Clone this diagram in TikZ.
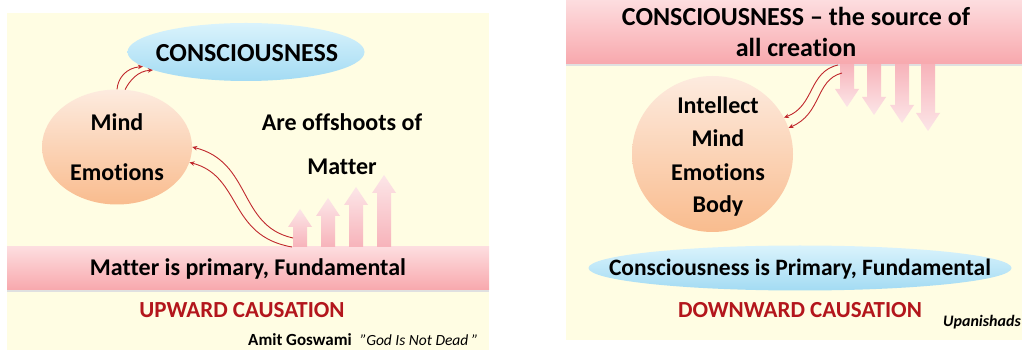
\documentclass[tikz,border=0pt]{standalone}
\usepackage{fontspec}
\setmainfont{Carlito}[Ligatures=NoCommon]
\usetikzlibrary{arrows.meta,shapes.geometric}

\definecolor{paperYellow}{HTML}{FFFDE3}
\definecolor{bandTop}{HTML}{FDDDDF}
\definecolor{bandBottom}{HTML}{F8A8AD}
\definecolor{skyTop}{HTML}{DAF3FC}
\definecolor{skyBottom}{HTML}{A3DBF3}
\definecolor{peachTop}{HTML}{FDEBDF}
\definecolor{peachBottom}{HTML}{F9BC8E}
\definecolor{shaftPink}{HTML}{F7B3BA}
\definecolor{shaftPale}{HTML}{FCE6E8}
\definecolor{curveRed}{HTML}{C0282D}
\definecolor{titleRed}{HTML}{B3161C}
\def\labelFont{\fontsize{24}{28}\selectfont\bfseries}
\def\headFont{\fontsize{26}{31}\selectfont\bfseries}

\begin{document}
\begin{tikzpicture}[x=1pt,y=-1pt,
    band/.style={rectangle, inner sep=0pt, top color=bandTop, bottom color=bandBottom},
    skyoval/.style={ellipse, inner sep=0pt, top color=skyTop, bottom color=skyBottom},
    peachball/.style={ellipse, inner sep=0pt, top color=peachTop, bottom color=peachBottom},
    word/.style={inner sep=0pt, font=\labelFont},
    causal/.style={draw=curveRed, line width=0.9pt, -{Stealth[length=5pt,width=4.5pt]}}]
    % Define parameters
    \def\shaftHalf{7}
    \def\headHalf{12}
    \def\headLen{18}

    \useasboundingbox (0,0) rectangle (1022,352);

    % left panel: upward causation
    \fill[paperYellow] (7,13) rectangle (489,350);
    \fill[black!12] (7,290) rectangle (489,292.5);
    \node[band, minimum width=482pt, minimum height=43pt] (matterBand) at (248,268.5) {};
    \node[word] (matterText) at (matterBand) {Matter is primary, Fundamental};

    \foreach \x/\tip in {300/209, 328/198, 356/187, 384/175}
        \shade[bottom color=shaftPink, top color=shaftPale]
            (\x-\shaftHalf,247) -- (\x-\shaftHalf,\tip+\headLen) -- (\x-\headHalf,\tip+\headLen)
            -- (\x,\tip) -- (\x+\headHalf,\tip+\headLen) -- (\x+\shaftHalf,\tip+\headLen)
            -- (\x+\shaftHalf,247) -- cycle;

    \node[skyoval, minimum width=237pt, minimum height=58pt] (conscL) at (246,52) {};
    \node[word, font=\headFont] (conscLText) at (247,53) {CONSCIOUSNESS};
    \node[peachball, minimum width=150pt, minimum height=115pt] (mindL) at (117,147) {};
    \node[word] (mindLText) at (117,122) {Mind};
    \node[word] (emoLText) at (117,172) {Emotions};
    \node[word] (offshoots) at (342,122) {Are offshoots of};
    \node[word] (offMatter) at (342,167) {Matter};

    \coordinate (riseA) at (293,238);
    \coordinate (riseB) at (292,247);
    \draw[causal] (riseA) .. controls (238,226) and (252,162) .. (mindL.0);
    \draw[causal] (riseB) .. controls (228,236) and (242,176) .. (mindL.-12);
    \draw[causal] (mindL.north) .. controls (118,78) and (126,68) .. (conscL.188);
    \draw[causal] (mindL.82) .. controls (130,80) and (138,71) .. (conscL.191);

    \node[word, font=\fontsize{23}{27}\selectfont\bfseries, text=titleRed] (upTitle) at (242,310) {UPWARD CAUSATION};
    \node[inner sep=0pt, anchor=base west] (credit) at (248,345)
        {\fontsize{17}{20}\selectfont\textbf{Amit Goswami}\enspace\fontsize{15.5}{18}\selectfont\textit{"God Is Not Dead "}};

    % right panel: downward causation
    \fill[paperYellow] (566,0) rectangle (1022,340);
    \fill[black!12] (566,64) rectangle (1022,66.5);
    \node[band, minimum width=456pt, minimum height=64pt] (sourceBand) at (794,32) {};
    \node[word, align=center, font=\headFont] (sourceText) at (796,31.5)
        {CONSCIOUSNESS -- the source of\\all creation};

    \foreach \x/\tip in {847/107, 874/115, 902/123, 928/131}
        \shade[top color=shaftPink, bottom color=shaftPale]
            (\x-\shaftHalf,64) -- (\x-\shaftHalf,\tip-\headLen) -- (\x-\headHalf,\tip-\headLen)
            -- (\x,\tip) -- (\x+\headHalf,\tip-\headLen) -- (\x+\shaftHalf,\tip-\headLen)
            -- (\x+\shaftHalf,64) -- cycle;

    \node[peachball, minimum width=161pt, minimum height=156pt] (mindR) at (712.5,154) {};
    \node[word] (intellectR) at (718,105) {Intellect};
    \node[word] (mindRText) at (718,138) {Mind};
    \node[word] (emoRText) at (718,172) {Emotions};
    \node[word] (bodyR) at (718,206) {Body};

    \coordinate (fallA) at (838,65);
    \coordinate (fallB) at (842,73);
    \draw[causal] (fallA) .. controls (808,72) and (815,106) .. (mindR.27);
    \draw[causal] (fallB) .. controls (815,80) and (822,114) .. (mindR.19);

    \node[skyoval, minimum width=423pt, minimum height=45pt] (primaryOval) at (800,268) {};
    \node[word, font=\fontsize{23.5}{28}\selectfont\bfseries] (primaryText) at (800,269) {Consciousness is Primary, Fundamental};

    \node[word, font=\fontsize{23}{27}\selectfont\bfseries, text=titleRed] (downTitle) at (800,310) {DOWNWARD CAUSATION};
    \node[inner sep=0pt, font=\fontsize{16}{19}\selectfont\bfseries\itshape] (sourceNote) at (982,322) {Upanishads};
\end{tikzpicture}
\end{document}
